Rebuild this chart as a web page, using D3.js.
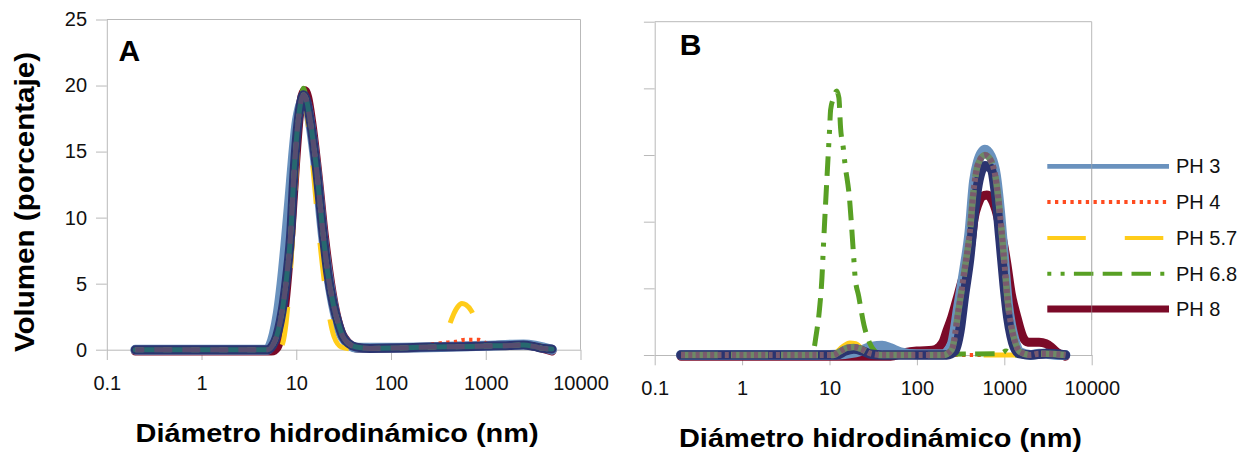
<!DOCTYPE html>
<html><head><meta charset="utf-8">
<script src="https://cdn.jsdelivr.net/npm/d3@7"></script>
<style>html,body{margin:0;padding:0;background:#fff;}svg{display:block;}</style>
</head><body>
<svg id="c" width="1245" height="453"></svg>
<script>
// ---------- DATA ----------
const diamTicks = [0.1, 1, 10, 100, 1000, 10000];
const diamTickLabels = ["0.1", "1", "10", "100", "1000", "10000"];
const volTicks = [0, 5, 10, 15, 20, 25];
const volTickLabels = ["0", "5", "10", "15", "20", "25"];
const legendLabels = ["PH 3", "PH 4", "PH 5.7", "PH 6.8", "PH 8"];
const yTitle = "Volumen (porcentaje)";
const xTitle = "Diámetro hidrodinámico (nm)";

// Panel A  [diameter nm, volume %]
const a_ph3 = [[0.2,0],[5,0],[5.3,0.3],[5.8,1.2],[6.4,2.8],[7,5],[7.7,8],[8.5,11.5],[9.3,14.8],[10,17],[11,18.5],[12,19],[13,18.5],[14,17.2],[16.4,13.4],[19.3,8.4],[24.5,3.4],[31,0.9],[43,0.15],[100,0.15],[1000,0.3],[2500,0.4],[5000,0]];
const a_ph4 = [[0.2,0],[5.5,0],[6.2,0.9],[7.3,3.4],[8.7,8.5],[9.5,13.5],[10.5,17.3],[11.9,19.2],[14,17.3],[16.4,13.5],[19.3,8.5],[24.5,3.4],[31,0.9],[43,0.15],[100,0.15],[200,0.3],[400,0.55],[480,0.6],[600,0.75],[850,0.75],[1000,0.5],[1500,0.35],[2500,0.45],[5000,0.1]];
const a_ph57 = [[0.2,0],[6.5,0],[7.2,0.5],[7.8,2],[8.5,5],[9.3,9.5],[10,13.5],[10.8,17],[11.7,18.8],[12.5,18.5],[13.5,16.8],[15,13.8],[17,9.5],[19.5,5.5],[22,2.8],[25,1.0],[30,0.2],[40,0.05],[100,0.1],[300,0.2],[380,1.0],[420,2.0],[500,3.2],[560,3.5],[620,3.4],[710,2.9],[850,1.4],[1000,0.4],[1500,0.3],[2500,0.35],[5000,0.05]];
const a_ph68 = [[0.2,0],[5.5,0],[6.2,0.9],[7.3,3.4],[8.7,8.5],[9.5,13.5],[10.5,17.3],[11.3,19],[11.9,19.8],[12.6,19.2],[14,17.3],[16.4,13.5],[19.3,8.5],[24.5,3.4],[31,0.9],[43,0.15],[100,0.15],[1000,0.3],[2500,0.4],[5000,0.1]];
const a_ph8 = [[0.2,-0.1],[5.5,-0.1],[6.3,0.2],[7,1.5],[7.6,3.5],[8.3,6.5],[9,10],[9.8,14],[10.7,17.5],[11.5,19.2],[12.3,19.6],[13.2,19.1],[14.5,17.3],[16.8,13.5],[19.8,8.6],[25,3.5],[32,0.9],[45,0.1],[100,0.1],[300,0.2],[1000,0.3],[2500,0.4],[4000,0.1],[5000,-0.1]];
const a_navy = [[0.2,0],[5,0],[5.6,0.3],[6.2,1.0],[6.8,2.2],[7.3,3.5],[8,5.8],[8.7,8.6],[9.5,13.6],[10.5,17.4],[11.2,18.8],[11.9,19.3],[12.7,19],[14,17.4],[16.4,13.6],[19.3,8.6],[21.5,5.8],[24.5,3.5],[28,1.9],[31,1.0],[36,0.45],[43,0.2],[60,0.1],[100,0.12],[200,0.18],[400,0.22],[700,0.25],[1000,0.28],[1500,0.3],[2500,0.35],[3200,0.25],[4000,0.1],[5000,0.05]];

// Panel B
const b_ph3 = [[0.2,0],[10,0],[20,0.2],[30,0.6],[40,0.7],[50,0.5],[65,0.2],[100,0.05],[200,0.05],[250,0.8],[300,3.8],[350,6.5],[400,9.2],[450,13],[500,14.5],[600,15.4],[700,14.9],[800,13.5],[900,10.5],[1000,7],[1100,3.8],[1200,2.2],[1300,1.2],[1500,0.2],[2000,0],[2500,0.1],[3000,0.1],[4000,0],[5000,0]];
const b_ph4 = [[0.2,0],[10,0],[12,0.15],[14,0.45],[18,0.65],[22,0.5],[27,0.15],[35,0],[5000,0]];
const b_ph57 = [[0.2,0],[10,0],[12,0.2],[14,0.6],[17,0.9],[20,0.85],[24,0.4],[30,0.05],[40,0],[5000,0]];
const b_ph68 = [[0.2,0],[6,0],[6.6,0.4],[7.0,1.4],[7.7,3.5],[8.2,5.8],[8.5,8.0],[8.8,10.0],[9.3,13.0],[10.0,16.8],[10.3,18.4],[11.0,19.2],[12.1,19.8],[12.8,19.3],[13.4,17.0],[14.4,15.5],[15.0,14.4],[16.9,11.8],[18.8,7.6],[19.6,5.9],[21.6,4.4],[24.8,2.25],[28.8,0.9],[33,0.3],[40,0.05],[100,0.05],[900,0.1],[1050,0.3],[1200,0],[5000,0]];
const b_ph8 = [[0.2,-0.1],[50,-0.1],[70,0.15],[100,0.3],[150,0.35],[180,0.6],[200,1.0],[220,1.8],[250,2.8],[285,4.1],[330,5.6],[387,6.9],[420,8.6],[450,10.2],[500,11.3],[560,11.9],[630,12.0],[700,11.8],[800,10.9],[900,9.5],[1000,8.0],[1065,6.9],[1200,4.6],[1386,2.9],[1620,1.4],[1800,1.0],[2000,0.95],[2500,0.95],[3000,0.85],[3500,0.55],[4000,0.2],[5000,-0.1]];
const b_navy = [[0.2,0],[12,0],[15,0.3],[19,0.45],[24,0.3],[30,0.05],[40,0],[220,0],[270,0.3],[310,1.8],[350,4.5],[400,7.2],[450,10.5],[500,12.8],[600,14.2],[700,14.0],[800,12.0],[900,8.5],[1000,5.2],[1100,2.8],[1200,1.4],[1300,0.6],[1500,0.1],[2000,0],[3000,0.1],[5000,0]];
const b_overlay = [[0.2,0],[11,0],[13,0.25],[16,0.55],[19,0.6],[23,0.45],[30,0.1],[40,0],[200,0],[250,0.4],[300,3.4],[350,6.3],[400,9],[450,12.6],[500,14.3],[600,15.0],[700,14.6],[800,13.2],[900,10.3],[1000,7],[1100,3.9],[1200,2.2],[1300,1.2],[1500,0.25],[2000,0],[2500,0.1],[3000,0.1],[5000,0]];

// ---------- STYLES ----------
const FONT = "'Liberation Sans', Arial, Helvetica, sans-serif";
const AXIS = "#b9b9b9";
const sty = {
  ph3:  {color:"#6a92be", width:10},
  ph4:  {color:"#ff4b1f", width:4, dash:"3.3,4.4"},
  ph57: {color:"#ffcc1a", width:5, dash:"38.5,39"},
  ph68: {color:"#58a024", width:5, dash:"4,9.3,4,9.3,19.5,9.3,19.5,9.3,19.5,9.3"},
  ph8:  {color:"#7b0a28", width:9}
};
const navySty = {A:{color:"#2b3470", width:9}, B:{color:"#2b3470", width:9.6}};
const legendSty = [
  {color:"#6a92be", width:4.7},
  {color:"#ff4b1f", width:4, dash:"3.3,4.4"},
  {color:"#ffcc1a", width:4, dash:"38.5,39"},
  {color:"#58a024", width:4, dash:"4,9.3,4,9.3,19.5,9.3,19.5,9.3,19.5,9.3"},
  {color:"#7b0a28", width:7}
];

const svg = d3.select("#c");
svg.append("rect").attr("width",1245).attr("height",453).attr("fill","#fff");

function lengthAtX(node, xt){
  let lo=0, hi=node.getTotalLength();
  for(let i=0;i<40;i++){const m=(lo+hi)/2; if(node.getPointAtLength(m).x<xt) lo=m; else hi=m;}
  return lo;
}

function panel(cfg){
  const x = d3.scaleLog().domain([0.1,10000]).range([cfg.x0, cfg.x1]);
  const y = d3.scaleLinear().domain([0,25]).range([cfg.yBase, cfg.yTop]);
  const g = svg.append("g");

  g.append("line").attr("x1",cfg.x0).attr("x2",cfg.x1).attr("y1",cfg.yTop).attr("y2",cfg.yTop).attr("stroke",AXIS);
  g.append("line").attr("x1",cfg.x1).attr("x2",cfg.x1).attr("y1",cfg.yTop).attr("y2",cfg.yBase).attr("stroke",AXIS);

  const xa = g.append("g").attr("transform",`translate(0,${cfg.yBase})`)
    .call(d3.axisBottom(x).tickValues(diamTicks).tickFormat((d,i)=>diamTickLabels[i]).tickSize(10.3).tickSizeOuter(0));
  xa.select(".domain").attr("stroke",AXIS);
  xa.selectAll(".tick line").attr("stroke",AXIS);
  xa.selectAll(".tick text").attr("y", cfg.xLabBase - cfg.yBase).attr("dy",0)
    .attr("font-family",FONT).attr("font-size",20).attr("fill","#111");

  const ya = g.append("g").attr("transform",`translate(${cfg.x0},0)`)
    .call(d3.axisLeft(y).tickValues(volTicks).tickFormat((d,i)=>cfg.yLabels?volTickLabels[i]:"").tickSize(10.8).tickSizeOuter(0).tickPadding(9));
  ya.select(".domain").attr("stroke",AXIS);
  ya.selectAll(".tick line").attr("stroke",AXIS);
  ya.selectAll(".tick text").attr("font-family",FONT).attr("font-size",20).attr("fill","#111");

  const line = d3.line().x(d=>x(d[0])).y(d=>y(d[1])).curve(d3.curveMonotoneX);
  const draw = (data, s) => {
    const p = g.append("path").attr("d", line(data)).attr("fill","none")
      .attr("stroke", s.color).attr("stroke-width", s.width)
      .attr("stroke-linejoin","round").attr("stroke-linecap", s.dash ? "butt" : "round");
    if (s.dash) p.attr("stroke-dasharray", s.dash);
    if (s.offset) p.attr("stroke-dashoffset", s.offset);
    return p;
  };
  const S = cfg.series;
  draw(S.ph8, sty.ph8);
  draw(S.ph3, sty.ph3);
  draw(S.ph4, sty.ph4);
  const yp = draw(S.ph57, sty.ph57);
  if (cfg.yellowDashAt){
    const L = lengthAtX(yp.node(), x(cfg.yellowDashAt));
    const P = 77.5;
    yp.attr("stroke-dashoffset", (P - (L % P)) % P);
  }
  draw(S.ph68, sty.ph68);
  draw(S.navy, cfg.navy);
  cfg.overlay.forEach(o => draw(S.overlay, o));

  g.append("text").attr("x",cfg.letterX).attr("y",cfg.letterY).text(cfg.letter)
    .attr("font-family",FONT).attr("font-weight","bold").attr("font-size",30).attr("fill","#000");

  g.append("text").attr("x",cfg.titleX).attr("y",cfg.titleY).text(xTitle)
    .attr("font-family",FONT).attr("font-weight","bold").attr("font-size",25).attr("fill","#000")
    .attr("textLength",403).attr("lengthAdjust","spacingAndGlyphs");
}

panel({
  x0:106.8, x1:580.5, yTop:19.5, yBase:349.7, xLabBase:390, yLabels:true,
  letter:"A", letterX:118.6, letterY:61, titleX:135.6, titleY:441.7, yellowDashAt:420,
  navy: navySty.A,
  series:{ph3:a_ph3, ph4:a_ph4, ph57:a_ph57, ph68:a_ph68, ph8:a_ph8, navy:a_navy, overlay:a_navy},
  overlay:[
    {color:"#27686f", width:5},
    {color:"#58806e", width:5, dash:"8,20"},
    {color:"#574d6f", width:5, dash:"18,10", offset:9}
  ]
});

panel({
  x0:654.7, x1:1091.7, yTop:21.7, yBase:355, xLabBase:395, yLabels:false,
  letter:"B", letterX:679.8, letterY:55, titleX:679, titleY:446.7,
  navy: navySty.B,
  series:{ph3:b_ph3, ph4:b_ph4, ph57:b_ph57, ph68:b_ph68, ph8:b_ph8, navy:b_navy, overlay:b_overlay},
  overlay:[
    {color:"#6d8a66", width:6.5, dash:"37,13"},
    {color:"#7a5a6e", width:6, dash:"4,3.3"}
  ]
});

// y-axis title
svg.append("text").attr("transform","translate(34,352) rotate(-90)").text(yTitle)
  .attr("font-family",FONT).attr("font-weight","bold").attr("font-size",27).attr("fill","#000")
  .attr("textLength",300).attr("lengthAdjust","spacingAndGlyphs");

// legend
const legY = [166.3, 202, 238, 273.7, 309];
const lg = svg.append("g");
legendLabels.forEach((lab,i)=>{
  const s = legendSty[i];
  const l = lg.append("line").attr("x1",1047.3).attr("x2",1169).attr("y1",legY[i]).attr("y2",legY[i])
    .attr("stroke",s.color).attr("stroke-width",s.width);
  if (s.dash) l.attr("stroke-dasharray", s.dash);
  lg.append("text").attr("x",1176).attr("y",legY[i]+7).text(lab)
    .attr("font-family",FONT).attr("font-size",20).attr("fill","#111");
});
svg.append("line").attr("x1",1091.7).attr("x2",1091.7).attr("y1",150).attr("y2",320)
  .attr("stroke","rgba(170,170,170,0.55)");
</script>
</body></html>
